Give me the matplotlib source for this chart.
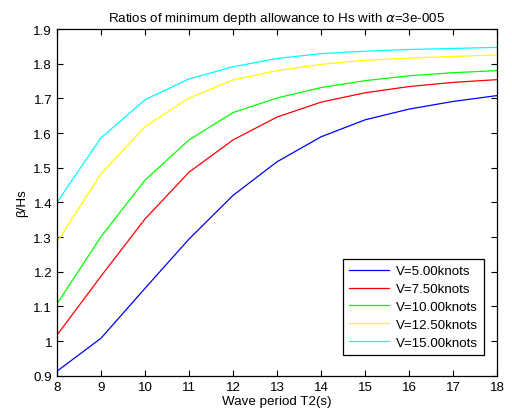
import matplotlib
matplotlib.use("Agg")
import matplotlib.pyplot as plt

plt.rcParams['font.family'] = ['Liberation Sans', 'DejaVu Sans']

periods = [8, 9, 10, 11, 12, 13, 14, 15, 16, 17, 18]
v5 = [0.913, 1.008, 1.152, 1.294, 1.420, 1.517, 1.589, 1.638, 1.669, 1.691, 1.708]
v75 = [1.017, 1.187, 1.352, 1.487, 1.580, 1.646, 1.689, 1.716, 1.734, 1.746, 1.754]
v10 = [1.107, 1.301, 1.464, 1.580, 1.659, 1.701, 1.731, 1.751, 1.765, 1.774, 1.780]
v125 = [1.285, 1.482, 1.618, 1.701, 1.753, 1.780, 1.798, 1.810, 1.816, 1.821, 1.825]
v15 = [1.400, 1.586, 1.696, 1.756, 1.791, 1.815, 1.829, 1.836, 1.841, 1.844, 1.847]
labels = ['V=5.00knots', 'V=7.50knots', 'V=10.00knots', 'V=12.50knots', 'V=15.00knots']
colors = ['#0000ff', '#ff0000', '#00ff00', '#ffff00', '#00ffff']

fs = 9.6
fig = plt.figure(figsize=(5.12, 4.14), dpi=100)
ax = fig.add_axes([0.1113, 0.0901, 0.8594, 0.8374])
for ys, lab, c in zip([v5, v75, v10, v125, v15], labels, colors):
    ax.plot(periods, ys, color=c, lw=0.9, label=lab)

ax.set_xlim(8, 18)
ax.set_ylim(0.9, 1.9)
ax.set_xticks(range(8, 19))
ax.set_yticks([0.9, 1.0, 1.1, 1.2, 1.3, 1.4, 1.5, 1.6, 1.7, 1.8, 1.9])
ax.set_yticklabels(['0.9', '1', '1.1', '1.2', '1.3', '1.4', '1.5', '1.6', '1.7', '1.8', '1.9'])
ax.tick_params(direction='in', top=True, right=True, labelsize=fs, length=4, width=0.8)
for s in ax.spines.values():
    s.set_linewidth(0.9)
ax.set_xlabel('Wave period T2(s)', fontsize=fs, labelpad=2)
ax.set_ylabel('β/Hs', fontsize=fs, labelpad=4)
ax.set_title(r'Ratios of minimum depth allowance to Hs with $\alpha$=3e-005', fontsize=fs, pad=6)
leg = ax.legend(loc='lower right', bbox_to_anchor=(0.9705, 0.0597), borderaxespad=0,
                fontsize=fs, fancybox=False, framealpha=1,
                edgecolor='black', handlelength=3.0, handletextpad=0.5,
                labelspacing=0.42, borderpad=0.45)
leg.get_frame().set_linewidth(0.9)

fig.savefig('out.png', dpi=100)
